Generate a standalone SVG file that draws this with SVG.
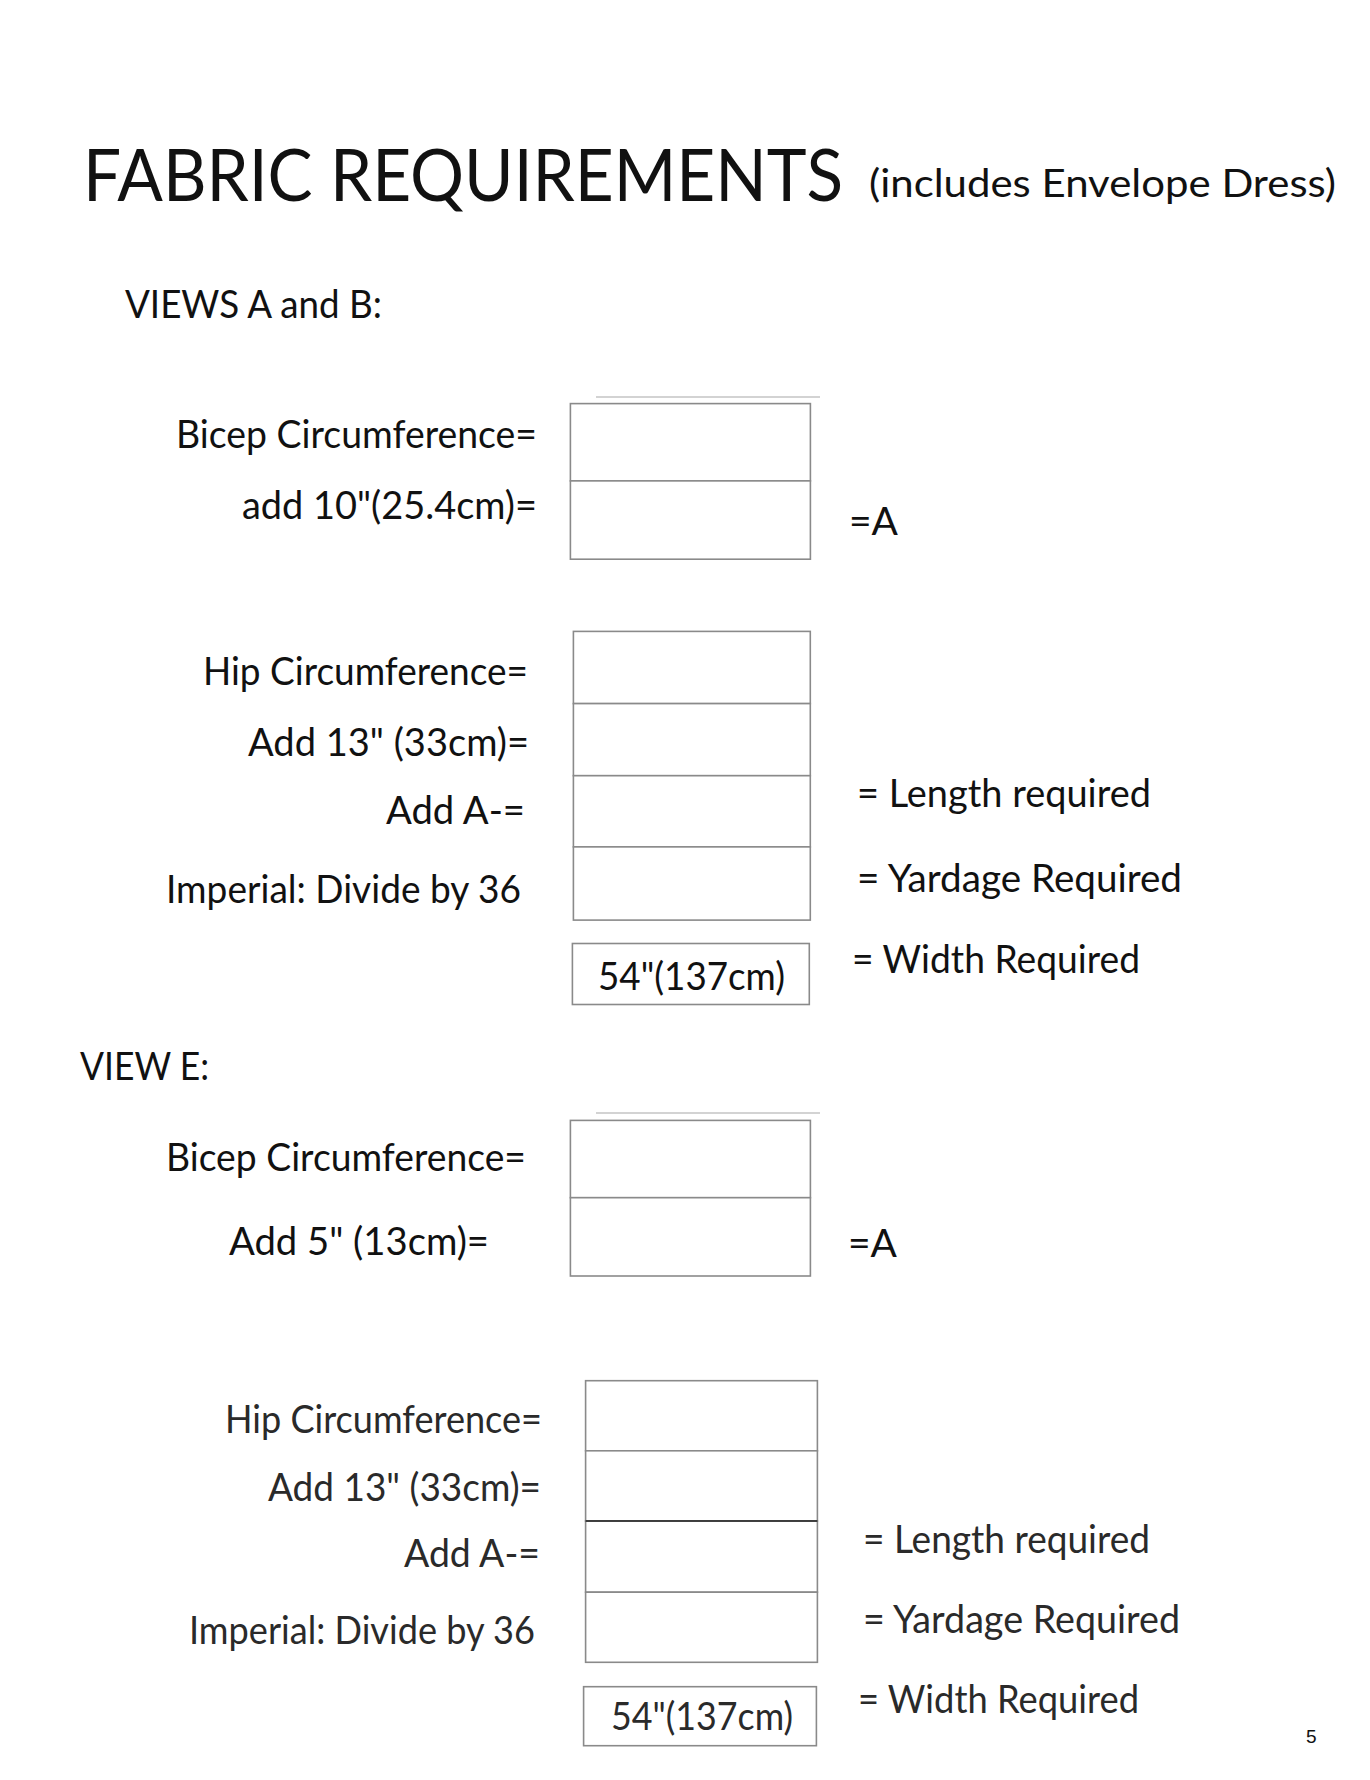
<svg xmlns="http://www.w3.org/2000/svg" width="1370" height="1780" viewBox="0 0 1370 1780">
<style>
text{font-family:"Lato","Noto Sans","Liberation Sans",sans-serif;fill:#111}
.t{font-size:38px}
.g{fill:#2a2a2a}
.box{fill:#fff;stroke:#8a8a8a;stroke-width:1.6}
.dk{stroke:#222;stroke-width:1.4}
.rule{stroke:#c4c4c4;stroke-width:1.5}
</style>
<rect width="1370" height="1780" fill="#fff"/>
<g id="title">
<text x="83" y="201" font-size="71" textLength="760" lengthAdjust="spacingAndGlyphs">FABRIC REQUIREMENTS</text>
<text x="869" y="197" font-size="38" textLength="467" lengthAdjust="spacingAndGlyphs">(includes Envelope Dress)</text>
</g>
<g id="views-ab-heading"><text class="t" x="125" y="318" textLength="257" lengthAdjust="spacingAndGlyphs">VIEWS A and B:</text></g>

<g id="s1">
<line class="rule" x1="596" y1="397" x2="820" y2="397"/>
<rect class="box" x="570.4" y="403.6" width="240" height="77.3"/>
<rect class="box" x="570.4" y="480.9" width="240" height="78.3"/>
<text class="t" x="176" y="448" textLength="361" lengthAdjust="spacingAndGlyphs">Bicep Circumference=</text>
<text class="t" x="242" y="519" textLength="295" lengthAdjust="spacingAndGlyphs">add 10"(25.4cm)=</text>
<text class="t" x="849" y="535" textLength="49" lengthAdjust="spacingAndGlyphs">=A</text>
</g>

<g id="s2">
<rect class="box" x="573.4" y="631.4" width="236.9" height="72.2"/>
<rect class="box" x="573.4" y="703.6" width="236.9" height="72.1"/>
<rect class="box" x="573.4" y="775.7" width="236.9" height="71.2"/>
<rect class="box" x="573.4" y="846.9" width="236.9" height="73.2"/>
<text class="t" x="203" y="685" textLength="325" lengthAdjust="spacingAndGlyphs">Hip Circumference=</text>
<text class="t" x="248" y="756" textLength="281" lengthAdjust="spacingAndGlyphs">Add 13" (33cm)=</text>
<text class="t" x="386" y="824" textLength="139" lengthAdjust="spacingAndGlyphs">Add A-=</text>
<text class="t" x="166" y="903" textLength="355" lengthAdjust="spacingAndGlyphs">Imperial: Divide by 36</text>
<text class="t" x="857" y="807" textLength="294" lengthAdjust="spacingAndGlyphs">= Length required</text>
<text class="t" x="857" y="892" textLength="325" lengthAdjust="spacingAndGlyphs">= Yardage Required</text>
</g>
<g id="s2-width">
<rect class="box" x="572.4" y="943.5" width="236.9" height="61"/>
<text class="t" x="598" y="990" textLength="187" lengthAdjust="spacingAndGlyphs">54"(137cm)</text>
<text class="t" x="852" y="973" textLength="288" lengthAdjust="spacingAndGlyphs">= Width Required</text>
</g>

<g id="view-e-heading"><text class="t" x="80" y="1080" textLength="129" lengthAdjust="spacingAndGlyphs">VIEW E:</text></g>

<g id="s3">
<line class="rule" x1="596" y1="1113" x2="820" y2="1113"/>
<rect class="box" x="570.4" y="1120.4" width="240" height="77.3"/>
<rect class="box" x="570.4" y="1197.7" width="240" height="78.3"/>
<text class="t" x="166" y="1171" textLength="360" lengthAdjust="spacingAndGlyphs">Bicep Circumference=</text>
<text class="t" x="229" y="1255" textLength="260" lengthAdjust="spacingAndGlyphs">Add 5" (13cm)=</text>
<text class="t" x="848" y="1257" textLength="49" lengthAdjust="spacingAndGlyphs">=A</text>
</g>

<g id="s4">
<rect class="box" x="585.6" y="1380.7" width="231.8" height="70.1"/>
<rect class="box" x="585.6" y="1450.8" width="231.8" height="70.2"/>
<rect class="box" x="585.6" y="1521" width="231.8" height="71.2"/>
<rect class="box" x="585.6" y="1592.2" width="231.8" height="70.1"/>
<line class="dk" x1="585.6" y1="1521" x2="817.4" y2="1521"/>
<text class="t g" x="225" y="1433" textLength="317" lengthAdjust="spacingAndGlyphs">Hip Circumference=</text>
<text class="t g" x="268" y="1501" textLength="273" lengthAdjust="spacingAndGlyphs">Add 13" (33cm)=</text>
<text class="t g" x="404" y="1567" textLength="136" lengthAdjust="spacingAndGlyphs">Add A-=</text>
<text class="t g" x="189" y="1644" textLength="346" lengthAdjust="spacingAndGlyphs">Imperial: Divide by 36</text>
<text class="t g" x="863" y="1553" textLength="287" lengthAdjust="spacingAndGlyphs">= Length required</text>
<text class="t g" x="863" y="1633" textLength="317" lengthAdjust="spacingAndGlyphs">= Yardage Required</text>
</g>
<g id="s4-width">
<rect class="box" x="583.6" y="1686.7" width="232.8" height="59"/>
<text class="t g" x="611" y="1730" textLength="182" lengthAdjust="spacingAndGlyphs">54"(137cm)</text>
<text class="t g" x="858" y="1713" textLength="281" lengthAdjust="spacingAndGlyphs">= Width Required</text>
</g>

<g id="page-number"><text x="1306" y="1743" font-size="19" style="font-family:'Liberation Sans',sans-serif">5</text></g>
<g id="connectors"></g>
</svg>
